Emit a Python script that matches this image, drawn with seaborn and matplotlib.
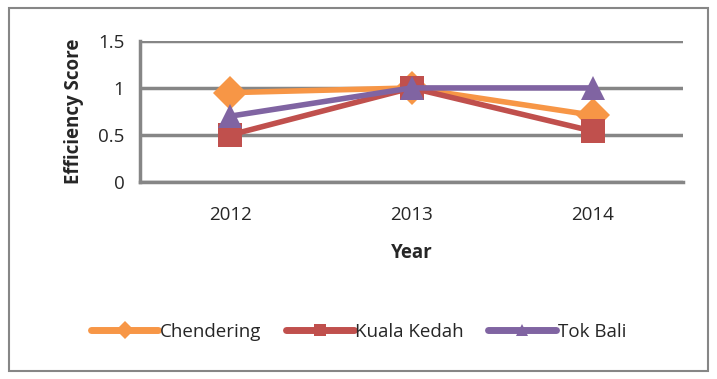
import pandas as pd
import seaborn as sns
import matplotlib.pyplot as plt
from matplotlib.patches import Rectangle

# ====================== DATA ======================
years = ["2012", "2013", "2014"]
chendering = [0.95, 1.0, 0.71]
kuala_kedah = [0.50, 1.0, 0.54]
tok_bali = [0.70, 1.0, 1.0]

series_names = ["Chendering", "Kuala Kedah", "Tok Bali"]
df = pd.DataFrame({
    "Year": years * 3,
    "Score": chendering + kuala_kedah + tok_bali,
    "Port": [n for n in series_names for _ in years],
})

# ====================== STYLE ======================
sns.set_style("white")
plt.rcParams["font.family"] = ["Open Sans", "DejaVu Sans"]

palette = {"Chendering": "#F79646", "Kuala Kedah": "#C0504D", "Tok Bali": "#8064A2"}
markers = {"Chendering": "D", "Kuala Kedah": "s", "Tok Bali": "^"}
grid_col = "#868686"

fig = plt.figure(figsize=(7.17, 3.79), dpi=100)
ax = fig.add_axes([0.195, 0.520, 0.758, 0.372])

sns.lineplot(data=df, x="Year", y="Score", hue="Port", style="Port",
             palette=palette, markers=markers, dashes=False, sort=False,
             linewidth=4, markersize=17, markeredgewidth=0, ax=ax)

# ====================== AXES ======================
ax.set_xlim(-0.5, 2.5)
ax.set_ylim(0, 1.5)
ax.set_yticks([0, 0.5, 1, 1.5])
ax.set_yticklabels(["0", "0.5", "1", "1.5"])
ax.set_xticks([0, 1, 2])
ax.set_xticks([-0.5, 0.5, 1.5, 2.5], minor=True)
ax.tick_params(axis="x", which="major", length=0, pad=17, labelsize=13.5)
ax.tick_params(axis="x", which="minor", length=6, width=2.2, color=grid_col)
ax.tick_params(axis="y", length=6, width=2.2, color=grid_col, labelsize=13.5, pad=5)

ax.yaxis.grid(True, color=grid_col, linewidth=2.5)
ax.set_axisbelow(True)
for s in ["top", "right"]:
    ax.spines[s].set_visible(False)
for s in ["left", "bottom"]:
    ax.spines[s].set_color(grid_col)
    ax.spines[s].set_linewidth(2.5)

ax.set_xlabel("Year", fontsize=13.5, fontweight="bold", labelpad=14)
ax.set_ylabel("Efficiency Score", fontsize=13.5, fontweight="bold", labelpad=10)

# ====================== LEGEND ======================
handles, labels = ax.get_legend_handles_labels()
for h in handles:
    h.set_markersize(9)
    h.set_linewidth(5)
ax.get_legend().remove()
fig.legend(handles, labels, loc="center", bbox_to_anchor=(0.5, 0.125), ncol=3,
           frameon=False, fontsize=13.5, handlelength=3.6, handletextpad=0.1,
           columnspacing=1.3)

# outer frame
fig.patches.append(Rectangle((0.012, 0.022), 0.976, 0.958, transform=fig.transFigure,
                             fill=False, edgecolor=grid_col, linewidth=1.5))

plt.savefig("out.png", dpi=100)
